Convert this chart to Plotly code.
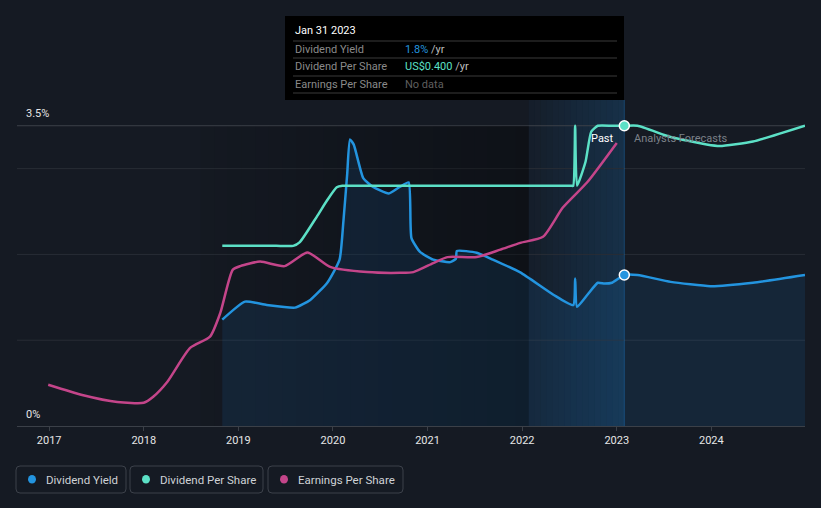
import plotly.graph_objects as go

# ---------------- data ----------------
yield_years = [2018.83, 2019.07, 2019.30, 2019.60, 2019.76, 2019.94, 2020.07, 2020.11, 2020.15,
               2020.18, 2020.22, 2020.32, 2020.42, 2020.59, 2020.71, 2020.80, 2020.83, 2020.92,
               2021.06, 2021.24, 2021.30, 2021.31, 2021.52, 2021.69, 2021.98, 2022.33, 2022.54,
               2022.56, 2022.58, 2022.69, 2022.80, 2022.87, 2022.95, 2023.08]
yield_pct = [1.24, 1.45, 1.41, 1.38, 1.47, 1.67, 1.94, 2.38, 2.93,
             3.34, 3.28, 2.89, 2.79, 2.71, 2.79, 2.84, 2.19, 2.03,
             1.94, 1.91, 1.95, 2.04, 2.02, 1.94, 1.79, 1.53, 1.41,
             1.72, 1.39, 1.53, 1.67, 1.66, 1.67, 1.76]
yield_fc_years = [2023.08, 2023.22, 2023.57, 2023.99, 2024.44, 2024.99]
yield_fc_pct = [1.76, 1.76, 1.68, 1.63, 1.67, 1.76]

dps_years = [2018.83, 2019.10, 2019.40, 2019.58, 2019.65, 2019.83, 2019.94, 2020.04, 2020.10,
             2020.30, 2020.80, 2021.30, 2021.80, 2022.30, 2022.45, 2022.52, 2022.54,
             2022.56, 2022.58, 2022.67, 2022.73, 2022.80, 2022.95, 2023.08]
dps_usd = [0.24, 0.24, 0.24, 0.24, 0.245, 0.279, 0.301, 0.318, 0.32,
           0.32, 0.32, 0.32, 0.32, 0.32, 0.32, 0.32, 0.32,
           0.40, 0.32, 0.352, 0.392, 0.40, 0.40, 0.40]
dps_fc_years = [2023.08, 2023.22, 2023.57, 2023.95, 2024.09, 2024.44, 2024.99]
dps_fc_usd = [0.40, 0.40, 0.385, 0.375, 0.373, 0.379, 0.40]

eps_years = [2016.99, 2017.36, 2017.72, 2018.00, 2018.10, 2018.25, 2018.49, 2018.70, 2018.81,
             2018.94, 2019.02, 2019.23, 2019.49, 2019.73, 2019.97, 2020.36, 2020.71, 2020.85,
             2021.06, 2021.21, 2021.52, 2021.77, 2021.98, 2022.22, 2022.43, 2022.69, 2023.00]
eps_usd = [0.055, 0.041, 0.032, 0.031, 0.039, 0.059, 0.104, 0.119, 0.151,
           0.208, 0.213, 0.219, 0.213, 0.231, 0.212, 0.205, 0.204, 0.205,
           0.217, 0.225, 0.225, 0.235, 0.244, 0.252, 0.291, 0.325, 0.377]

year_ticks = [2017, 2018, 2019, 2020, 2021, 2022, 2023, 2024]
grid_levels = [1, 2, 3, 3.5]
now_year = 2023.08
highlight_start = 2022.07

# ---------------- layout constants ----------------
W, H = 821, 508
L, R, T, B = 17, 16, 100, 82
X_RANGE = [2016.66, 2024.99]
Y_RANGE = [0, 3.8]
Y2_RANGE = [0, 0.4 * 3.8 / 3.5]

BG = "#151a23"
BLUE = "#2394df"
TEAL = "#5ce0c6"
PINK = "#c4458a"
FONT = "Roboto"

def pxx(x):
    return (x - L) / (W - L - R)

def pxy(y):
    return (H - B - y) / (H - T - B)

fig = go.Figure()

fig.add_trace(go.Scatter(
    x=yield_years + yield_fc_years[1:], y=yield_pct + yield_fc_pct[1:],
    mode="lines", line=dict(color=BLUE, width=2.5, shape="spline", smoothing=0.5),
    fill="tozeroy", fillcolor="rgba(33,150,243,0.10)", hoverinfo="skip", name="Dividend Yield"))

fig.add_trace(go.Scatter(
    x=dps_years + dps_fc_years[1:], y=dps_usd + dps_fc_usd[1:], yaxis="y2",
    mode="lines", line=dict(color=TEAL, width=2.5, shape="spline", smoothing=0.5),
    hoverinfo="skip", name="Dividend Per Share"))

fig.add_trace(go.Scatter(
    x=eps_years, y=eps_usd, yaxis="y2",
    mode="lines", line=dict(color=PINK, width=2.5, shape="spline", smoothing=0.6),
    hoverinfo="skip", name="Earnings Per Share"))

fig.add_trace(go.Scatter(
    x=[yield_years[-1]], y=[yield_pct[-1]], mode="markers",
    marker=dict(size=10, color=BLUE, line=dict(color="white", width=1.5)), hoverinfo="skip"))
fig.add_trace(go.Scatter(
    x=[dps_years[-1]], y=[dps_usd[-1]], yaxis="y2", mode="markers",
    marker=dict(size=10, color=TEAL, line=dict(color="white", width=1.5)), hoverinfo="skip"))

shapes = []
# darkening gradient over the past
N = 24
gx0, gx1 = 2018.6, highlight_start
for i in range(N):
    a = gx0 + (gx1 - gx0) * i / N
    b = gx0 + (gx1 - gx0) * (i + 1) / N
    op = 0.02 + 0.30 * (i + 1) / N
    shapes.append(dict(type="rect", xref="x", yref="y", x0=a, x1=b, y0=0, y1=3.5,
                       fillcolor=f"rgba(0,0,0,{op:.3f})", line=dict(width=0), layer="below"))
# blue highlight gradient
N2 = 16
for i in range(N2):
    a = highlight_start + (now_year - highlight_start) * i / N2
    b = highlight_start + (now_year - highlight_start) * (i + 1) / N2
    op = 0.03 + 0.15 * (i + 1) / N2
    shapes.append(dict(type="rect", xref="x", yref="paper", x0=a, x1=b, y0=0, y1=1,
                       fillcolor=f"rgba(33,150,243,{op:.3f})", line=dict(width=0), layer="below"))
# grid lines
for g in grid_levels:
    col = "#3b4048" if g == 3.5 else "#282d35"
    shapes.append(dict(type="line", xref="paper", yref="y", x0=0, x1=1, y0=g, y1=g,
                       line=dict(color=col, width=1), layer="below"))
# "now" line
shapes.append(dict(type="line", xref="x", yref="paper", x0=now_year, x1=now_year, y0=0, y1=1,
                   line=dict(color="rgba(33,150,243,0.30)", width=1), layer="below"))

annotations = []
# y labels
annotations.append(dict(xref="paper", yref="paper", x=pxx(24), y=pxy(114), text="3.5%",
                        showarrow=False, xanchor="left", yanchor="middle",
                        font=dict(family=FONT, size=11, color="#e6e6e6")))
annotations.append(dict(xref="paper", yref="paper", x=pxx(24), y=pxy(414), text="0%",
                        showarrow=False, xanchor="left", yanchor="middle",
                        font=dict(family=FONT, size=11, color="#e6e6e6")))
# Past / forecasts
annotations.append(dict(xref="paper", yref="paper", x=pxx(616), y=pxy(138), text="Past",
                        showarrow=False, xanchor="right", yanchor="middle",
                        font=dict(family=FONT, size=11, color="#ffffff")))
annotations.append(dict(xref="paper", yref="paper", x=pxx(632), y=pxy(138), text="Analysts Forecasts",
                        showarrow=False, xanchor="left", yanchor="middle",
                        font=dict(family=FONT, size=11, color="#7c8189")))

# tooltip
shapes.append(dict(type="rect", xref="paper", yref="paper", x0=pxx(285), x1=pxx(624),
                   y0=pxy(100), y1=pxy(16), fillcolor="#000000", line=dict(width=0), layer="above"))
for yy in [41, 58, 76, 93]:
    shapes.append(dict(type="line", xref="paper", yref="paper", x0=pxx(293), x1=pxx(617),
                       y0=pxy(yy), y1=pxy(yy), line=dict(color="#3a3a3a", width=1), layer="above"))
annotations.append(dict(xref="paper", yref="paper", x=pxx(293), y=pxy(31), text="Jan 31 2023",
                        showarrow=False, xanchor="left", yanchor="middle",
                        font=dict(family=FONT, size=11, color="#ffffff")))
rows = [("Dividend Yield", f"<span style='color:{BLUE}'>1.8%</span> /yr", 49),
        ("Dividend Per Share", f"<span style='color:{TEAL}'>US$0.400</span> /yr", 67),
        ("Earnings Per Share", "<span style='color:#5f5f5f'>No data</span>", 84)]
for lab, val, yy in rows:
    annotations.append(dict(xref="paper", yref="paper", x=pxx(293), y=pxy(yy), text=lab,
                            showarrow=False, xanchor="left", yanchor="middle",
                            font=dict(family=FONT, size=11, color="#8a8a8a")))
    annotations.append(dict(xref="paper", yref="paper", x=pxx(403), y=pxy(yy), text=val,
                            showarrow=False, xanchor="left", yanchor="middle",
                            font=dict(family=FONT, size=11, color="#bdbdbd")))

# legend boxes
def rrect(x0, y0, x1, y1, r=4):
    X0, X1 = pxx(x0), pxx(x1)
    Y0, Y1 = pxy(y1), pxy(y0)  # bottom, top in paper
    rx = r / (W - L - R)
    ry = r / (H - T - B)
    return (f"M {X0+rx},{Y1} L {X1-rx},{Y1} Q {X1},{Y1} {X1},{Y1-ry} "
            f"L {X1},{Y0+ry} Q {X1},{Y0} {X1-rx},{Y0} L {X0+rx},{Y0} "
            f"Q {X0},{Y0} {X0},{Y0+ry} L {X0},{Y1-ry} Q {X0},{Y1} {X0+rx},{Y1} Z")

legend_items = [("Dividend Yield", BLUE, 16, 126, 32, 44),
                ("Dividend Per Share", TEAL, 130, 263, 146, 158),
                ("Earnings Per Share", PINK, 268, 403, 284, 296)]
for name, col, bx0, bx1, dx, tx in legend_items:
    shapes.append(dict(type="path", xref="paper", yref="paper", path=rrect(bx0, 466, bx1, 493),
                       line=dict(color="#3c414a", width=1), fillcolor="rgba(0,0,0,0)"))
    shapes.append(dict(type="circle", xref="paper", yref="paper",
                       x0=pxx(dx - 4), x1=pxx(dx + 4), y0=pxy(483.5), y1=pxy(475),
                       fillcolor=col, line=dict(width=0)))
    annotations.append(dict(xref="paper", yref="paper", x=pxx(tx), y=pxy(479.5), text=name,
                            showarrow=False, xanchor="left", yanchor="middle",
                            font=dict(family=FONT, size=11.5, color="#cfd2d6")))

fig.update_layout(
    width=W, height=H, margin=dict(l=L, r=R, t=T, b=B),
    paper_bgcolor=BG, plot_bgcolor=BG, showlegend=False,
    xaxis=dict(range=X_RANGE, tickvals=year_ticks, ticktext=[str(y) for y in year_ticks],
               showgrid=False, zeroline=False, showline=True, linecolor="#3b4048", linewidth=1,
               ticks="outside", ticklen=4, tickcolor="#3b4048",
               tickfont=dict(family=FONT, size=11, color="#e6e6e6"), fixedrange=True),
    yaxis=dict(range=Y_RANGE, showgrid=False, zeroline=False, showticklabels=False, fixedrange=True),
    yaxis2=dict(range=Y2_RANGE, overlaying="y", visible=False, fixedrange=True),
    shapes=shapes, annotations=annotations,
)

fig.write_html("out.html")
